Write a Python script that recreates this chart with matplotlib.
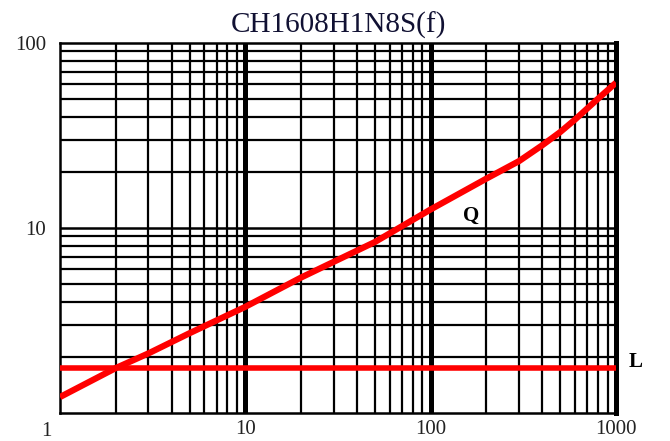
import matplotlib
matplotlib.use("Agg")
import matplotlib.pyplot as plt
from matplotlib.ticker import FixedLocator, NullFormatter

# values
freq_mhz = [1, 2, 3, 5, 10, 20, 50, 100, 200, 300, 400, 500, 600, 800, 1000]
q_values = [1.22, 1.75, 2.1, 2.7, 3.75, 5.4, 8.4, 12.6, 18.5, 23, 28, 33, 38.5, 50, 61]
l_freq = [1, 1000]
l_values = [1.75, 1.75]

title = "CH1608H1N8S(f)"
serif = ["Liberation Serif", "DejaVu Serif"]

fig = plt.figure(figsize=(6.7, 4.41), dpi=100)
ax = fig.add_axes([0.0896, 0.0635, 0.8298, 0.839])
ax.set_xscale("log")
ax.set_yscale("log")
ax.set_xlim(1, 1000)
ax.set_ylim(1, 100)

# minor grid
minors = [m * 10 ** d for d in range(0, 3) for m in range(2, 10)]
ax.xaxis.set_minor_locator(FixedLocator(minors))
ax.yaxis.set_minor_locator(FixedLocator([m * 10 ** d for d in range(0, 2) for m in range(2, 10)]))
ax.xaxis.set_minor_formatter(NullFormatter())
ax.yaxis.set_minor_formatter(NullFormatter())
ax.grid(True, which="minor", color="black", lw=1.6)
ax.grid(False, which="major")
for xv in [10, 100]:
    ax.axvline(xv, color="black", lw=3.6)
ax.axhline(10, color="black", lw=1.8)

for side in ["left", "top", "bottom"]:
    ax.spines[side].set_linewidth(1.8)
ax.spines["right"].set_linewidth(3.6)

ax.plot(freq_mhz, q_values, color="#ff0000", lw=4.5, solid_capstyle="butt", zorder=5)
ax.plot(l_freq, l_values, color="#ff0000", lw=4.0, solid_capstyle="butt", zorder=5)

ax.set_xticks([10, 100, 1000])
ax.set_xticklabels(["10", "100", "1000"])
ax.set_yticks([10, 100])
ax.set_yticklabels(["10", "100"])
ax.tick_params(which="both", length=0)
ax.tick_params(axis="x", pad=5)
ax.tick_params(axis="y", pad=10)
for lab in ax.get_xticklabels() + ax.get_yticklabels():
    lab.set_fontfamily(serif)
    lab.set_fontsize(15)
    lab.set_color("#222222")
ax.annotate("1", xy=(1, 1), xycoords="data", xytext=(-10, -13), textcoords="offset points",
            ha="center", va="center", fontsize=15, family=serif, color="#222222",
            annotation_clip=False)

ax.text(0.5, 1.012, title, transform=ax.transAxes, ha="center", va="bottom",
        fontsize=21, family=serif, color="#111133")
ax.text(166, 11.6, "Q", ha="center", va="center", fontsize=15, fontweight="bold", family=serif)
ax.text(1.035, 0.138, "L", transform=ax.transAxes, ha="center", va="center",
        fontsize=15, fontweight="bold", family=serif)

fig.savefig("out.png", dpi=100, facecolor="white")
